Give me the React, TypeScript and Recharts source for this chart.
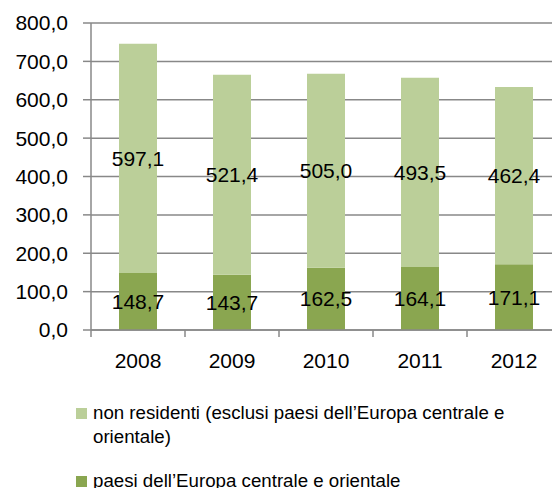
import { BarChart, Bar, XAxis, YAxis, CartesianGrid, LabelList } from "recharts";

const years = ["2008", "2009", "2010", "2011", "2012"];
const europaCentrale = [148.7, 143.7, 162.5, 164.1, 171.1];
const nonResidenti = [597.1, 521.4, 505.0, 493.5, 462.4];
const yTicks = [0, 100, 200, 300, 400, 500, 600, 700, 800];

const seriesNames = {
  europa: "paesi dell’Europa centrale e orientale",
  nonRes: "non residenti (esclusi paesi dell’Europa centrale e orientale)",
};
const colors = { europa: "#8AA650", nonRes: "#BBCF99" };

const data = years.map((y, i) => ({ year: y, europa: europaCentrale[i], nonRes: nonResidenti[i] }));

const font = "'Liberation Sans', Arial, sans-serif";
const axisGray = "#888888";
const fmt = (v: number) => v.toFixed(1).replace(".", ",");

const BAND = 94;

function YearTick({ x, y, payload }: any) {
  return (
    <g>
      <line x1={x - BAND / 2} y1={y} x2={x - BAND / 2} y2={y + 7} stroke={axisGray} strokeWidth={1.5} />
      <text x={x} y={y + 38} textAnchor="middle" fontSize={21} fontFamily={font} fill="#000">
        {payload.value}
      </text>
    </g>
  );
}

function LegendItem({ top, color, label }: { top: number; color: string; label: string }) {
  return (
    <div style={{ position: "absolute", left: 76, top, width: 470, fontFamily: font, fontSize: 18.7, lineHeight: "24px", color: "#000" }}>
      <div style={{ position: "absolute", left: 0, top: 7, width: 11, height: 11, background: color }} />
      <div style={{ marginLeft: 17, width: 450 }}>{label}</div>
    </div>
  );
}

export default function App() {
  return (
    <div style={{ position: "absolute", left: 0, top: 0, width: 552, height: 488, overflow: "hidden", background: "#fff" }}>
      <BarChart
        width={570}
        height={488}
        data={data}
        margin={{ top: 23, right: 9, left: 0, bottom: 118 }}
        barCategoryGap={0}
      >
        <CartesianGrid vertical={false} stroke={axisGray} strokeWidth={1.5} />
        <XAxis
          dataKey="year"
          height={40}
          tickSize={0}
          tickMargin={0}
          tickLine={false}
          axisLine={{ stroke: axisGray, strokeWidth: 1.5 }}
          tick={<YearTick />}
          interval={0}
        />
        <YAxis
          width={91}
          domain={[0, 800]}
          ticks={yTicks}
          tickFormatter={fmt}
          tickSize={8}
          tickMargin={15}
          axisLine={{ stroke: axisGray, strokeWidth: 1.5 }}
          tickLine={{ stroke: axisGray, strokeWidth: 1.5 }}
          tick={{ fontSize: 21, fontFamily: font, fill: "#000" }}
        />
        <Bar dataKey="europa" stackId="a" fill={colors.europa} barSize={38} isAnimationActive={false}>
          <LabelList dataKey="europa" position="center" formatter={(v: any) => fmt(Number(v))} fontSize={21} fontFamily={font} fill="#000" />
        </Bar>
        <Bar dataKey="nonRes" stackId="a" fill={colors.nonRes} barSize={38} isAnimationActive={false}>
          <LabelList dataKey="nonRes" position="center" formatter={(v: any) => fmt(Number(v))} fontSize={21} fontFamily={font} fill="#000" />
        </Bar>
      </BarChart>
      <LegendItem top={401} color={colors.nonRes} label={seriesNames.nonRes} />
      <LegendItem top={469} color={colors.europa} label={seriesNames.europa} />
    </div>
  );
}
